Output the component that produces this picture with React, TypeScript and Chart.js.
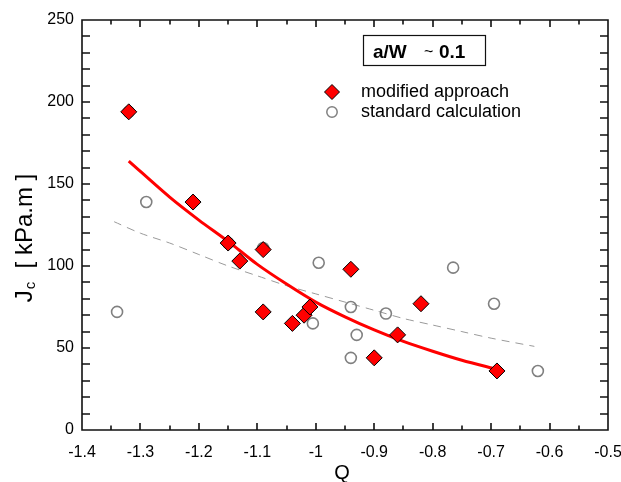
import React, { useEffect, useRef } from "react";
import { Chart, registerables } from "chart.js";

Chart.register(...registerables);

// ---- data ----
const modifiedQ = [-1.32, -1.21, -1.15, -1.13, -1.09, -1.09, -1.04, -1.02, -1.01, -0.94, -0.9, -0.86, -0.82, -0.69];
const modifiedJ = [194, 139, 114, 103, 110, 72, 65, 70, 75, 98, 44, 58, 77, 36];

const standardQ = [-1.34, -1.32, -1.29, -1.15, -1.09, -0.995, -1.005, -0.94, -0.93, -0.94, -0.88, -0.765, -0.695, -0.62];
const standardJ = [72, 194, 139, 114, 111, 102, 65, 75, 58, 44, 71, 99, 77, 36];

const modifiedFitQ = [-1.32, -1.25, -1.2, -1.15, -1.1, -1.05, -1.0, -0.95, -0.9, -0.85, -0.8, -0.75, -0.69];
const modifiedFitJ = [164, 142, 128, 115, 101, 89, 78, 69, 61, 54, 48, 42.5, 37];

const standardFitQ = [-1.345, -1.3, -1.25, -1.2, -1.15, -1.1, -1.05, -1.0, -0.95, -0.9, -0.85, -0.8, -0.75, -0.7, -0.626];
const standardFitJ = [127, 120, 114, 107, 100, 94, 88, 83, 78, 73, 68, 64, 60, 56, 51];

const xTicks = [-1.4, -1.3, -1.2, -1.1, -1.0, -0.9, -0.8, -0.7, -0.6, -0.5];
const xTickLabels = ["-1.4", "-1.3", "-1.2", "-1.1", "-1", "-0.9", "-0.8", "-0.7", "-0.6", "-0.5"];
const yTicks = [0, 50, 100, 150, 200, 250];
const yTickLabels = ["0", "50", "100", "150", "200", "250"];

const X_MIN = -1.4;
const X_MAX = -0.5;
const Y_MIN = 0;
const Y_MAX = 250;
const xMinorStep = 0.05;
const yMinorStep = 10;

const FONT = "'Liberation Sans', Arial, Helvetica, sans-serif";

const toPts = (xs: number[], ys: number[]) => xs.map((x, i) => ({ x, y: ys[i] }));

const decorPlugin = {
  id: "decor",
  afterDraw(chart: any) {
    const ctx: CanvasRenderingContext2D = chart.ctx;
    const a = chart.chartArea;
    ctx.save();
    ctx.setLineDash([]);
    ctx.globalAlpha = 1;
    ctx.strokeStyle = "#111";
    ctx.lineWidth = 1.6;
    const L = a.left;
    const R = a.right;
    const T = a.top;
    const B = a.bottom;

    // ticks (inward, all four sides)
    ctx.beginPath();
    const nx = Math.round((X_MAX - X_MIN) / xMinorStep);
    for (let k = 1; k < nx; k++) {
      const px = Math.round(L + (k / nx) * (R - L));
      const len = k % 2 === 0 ? 7 : 4.5;
      ctx.moveTo(px, B);
      ctx.lineTo(px, B - len);
      ctx.moveTo(px, T);
      ctx.lineTo(px, T + len);
    }
    const ny = Math.round((Y_MAX - Y_MIN) / yMinorStep);
    for (let k = 1; k < ny; k++) {
      const py = Math.round(B - (k / ny) * (B - T));
      ctx.moveTo(L, py);
      ctx.lineTo(L + 8, py);
      ctx.moveTo(R, py);
      ctx.lineTo(R - 8, py);
    }
    ctx.stroke();
    // frame
    ctx.beginPath();
    ctx.rect(L, T, R - L, B - T);
    ctx.stroke();

    // x axis title
    ctx.fillStyle = "#000";
    ctx.font = `20px ${FONT}`;
    ctx.textAlign = "center";
    ctx.textBaseline = "alphabetic";
    ctx.fillText("Q", 342, 479);

    // y axis title (rotated) J_c [ kPa.m ]
    ctx.save();
    ctx.translate(32, 238);
    ctx.rotate(-Math.PI / 2);
    ctx.textAlign = "left";
    ctx.font = `24px ${FONT}`;
    const wJ = ctx.measureText("J").width;
    ctx.font = `15px ${FONT}`;
    const wc = ctx.measureText("c").width;
    ctx.font = `24px ${FONT}`;
    const rest = "  [ kPa.m ]";
    const wr = ctx.measureText(rest).width;
    let x0 = -(wJ + wc + wr + 1) / 2;
    ctx.fillText("J", x0, 0);
    x0 += wJ + 1;
    ctx.font = `15px ${FONT}`;
    ctx.fillText("c", x0, 3);
    x0 += wc;
    ctx.font = `24px ${FONT}`;
    ctx.fillText(rest, x0, 0);
    ctx.restore();

    // a/W box
    ctx.strokeStyle = "#111";
    ctx.lineWidth = 1.2;
    ctx.strokeRect(363.5, 35.5, 122, 30);
    ctx.textAlign = "left";
    ctx.font = `bold 19px ${FONT}`;
    ctx.fillText("a/W", 373, 58);
    ctx.font = `16px ${FONT}`;
    ctx.fillText("~", 424, 57);
    ctx.font = `bold 19px ${FONT}`;
    ctx.fillText("0.1", 439, 58);

    // legend diamond
    ctx.beginPath();
    const dx = 332, dy = 92, dr = 7.5;
    ctx.moveTo(dx, dy - dr);
    ctx.lineTo(dx + dr, dy);
    ctx.lineTo(dx, dy + dr);
    ctx.lineTo(dx - dr, dy);
    ctx.closePath();
    ctx.fillStyle = "#ff0000";
    ctx.fill();
    ctx.strokeStyle = "#000";
    ctx.lineWidth = 1;
    ctx.stroke();
    // legend circle
    ctx.beginPath();
    ctx.arc(332, 112, 5.2, 0, Math.PI * 2);
    ctx.strokeStyle = "#808080";
    ctx.lineWidth = 1.5;
    ctx.stroke();
    ctx.fillStyle = "#000";
    ctx.font = `18px ${FONT}`;
    ctx.textBaseline = "middle";
    ctx.fillText("modified approach", 361, 92);
    ctx.fillText("standard calculation", 361, 112);
    ctx.restore();
  },
};

export default function App() {
  const ref = useRef<HTMLCanvasElement>(null);

  useEffect(() => {
    const canvas = ref.current;
    if (!canvas) return;
    const chart = new Chart(canvas, {
      type: "scatter",
      data: {
        datasets: [
          {
            label: "modified approach",
            data: toPts(modifiedQ, modifiedJ),
            pointStyle: "rectRot",
            pointRadius: 8,
            backgroundColor: "#ff0000",
            borderColor: "#000000",
            borderWidth: 1,
            showLine: false,
          },
          {
            label: "modified fit",
            data: toPts(modifiedFitQ, modifiedFitJ),
            showLine: true,
            borderColor: "#ff0000",
            borderWidth: 3,
            pointRadius: 0,
            tension: 0.3,
            fill: false,
          },
          {
            label: "standard calculation",
            data: toPts(standardQ, standardJ),
            pointStyle: "circle",
            pointRadius: 5.5,
            backgroundColor: "rgba(255,255,255,0)",
            borderColor: "#808080",
            borderWidth: 1.6,
            showLine: false,
          },
          {
            label: "standard fit",
            data: toPts(standardFitQ, standardFitJ),
            showLine: true,
            borderColor: "#9a9a9a",
            borderWidth: 1,
            borderDash: [8, 6],
            pointRadius: 0,
            tension: 0.3,
            fill: false,
          },
        ],
      },
      options: {
        responsive: false,
        animation: false,
        layout: { padding: { left: 0, right: 13, top: 20, bottom: 0 } },
        plugins: { legend: { display: false }, tooltip: { enabled: false } },
        scales: {
          x: {
            type: "linear",
            min: X_MIN,
            max: X_MAX,
            grid: { display: false, drawTicks: false },
            border: { display: false },
            ticks: {
              autoSkip: false,
              maxRotation: 0,
              padding: 13,
              color: "#000",
              font: { family: FONT, size: 16 },
              callback: (v: any) => {
                const i = xTicks.findIndex((t) => Math.abs(t - v) < 1e-6);
                return i >= 0 ? xTickLabels[i] : "";
              },
            },
            afterBuildTicks: (s: any) => {
              s.ticks = xTicks.map((v) => ({ value: v }));
            },
            afterFit: (s: any) => {
              s.height = 52;
              s.paddingLeft = 0;
              s.paddingRight = 0;
            },
          },
          y: {
            type: "linear",
            min: Y_MIN,
            max: Y_MAX,
            grid: { display: false, drawTicks: false },
            border: { display: false },
            ticks: {
              autoSkip: false,
              padding: 8,
              color: "#000",
              font: { family: FONT, size: 16 },
              callback: (v: any) => {
                const i = yTicks.findIndex((t) => Math.abs(t - v) < 1e-6);
                return i >= 0 ? yTickLabels[i] : "";
              },
            },
            afterBuildTicks: (s: any) => {
              s.ticks = yTicks.map((v) => ({ value: v }));
            },
            afterFit: (s: any) => {
              s.width = 82;
              s.paddingTop = 0;
              s.paddingBottom = 0;
            },
          },
        },
      },
      plugins: [decorPlugin],
    });
    return () => chart.destroy();
  }, []);

  return (
    <div style={{ position: "absolute", left: 0, top: 0, width: 621, height: 482, background: "#fff" }}>
      <canvas ref={ref} width={621} height={482} style={{ display: "block" }} />
    </div>
  );
}
